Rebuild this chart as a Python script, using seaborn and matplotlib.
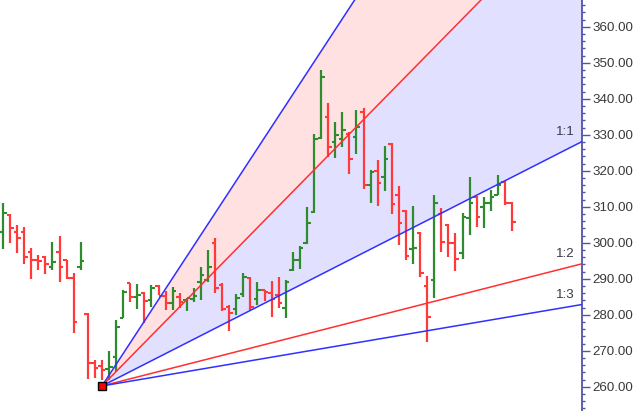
import numpy as np
import pandas as pd
import matplotlib
matplotlib.use('Agg')
import matplotlib.pyplot as plt
from matplotlib.ticker import MultipleLocator, FormatStrFormatter
import seaborn as sns

# OHLC prices, one entry per bar
opens = [303.0, 307.7, 303.0, 303.0, 297.4, 295.2, 296.0, 293.3, 297.4, 295.2,
         290.2, 293.3, 280.2, 266.6, 265.7, 264.9, 268.3, 279.1, 288.8, 285.0,
         286.0, 284.1, 288.0, 285.2, 283.3, 284.9, 284.1, 284.4, 289.1, 289.6,
         299.9, 288.3, 282.1, 281.6, 285.8, 290.2, 284.4, 287.0, 286.0, 285.4,
         281.9, 292.4, 295.2, 299.9, 308.5, 329.1, 334.9, 328.0, 328.8, 330.2,
         329.4, 336.3, 316.0, 319.9, 318.3, 327.4, 313.3, 308.8, 298.2, 302.7,
         288.0, 289.6, 308.0, 304.9, 299.9, 297.1, 306.9, 312.7, 309.9, 311.0,
         313.3, 316.9, 311.0]
highs = [311.0, 308.0, 304.9, 304.4, 298.5, 296.6, 296.3, 300.2, 301.9, 295.2,
         291.6, 300.2, 280.5, 267.4, 267.4, 269.9, 278.5, 286.9, 288.8, 288.5,
         286.3, 288.3, 288.3, 286.6, 287.7, 286.0, 284.6, 287.4, 293.3, 298.0,
         301.3, 288.8, 282.7, 285.8, 291.6, 290.5, 289.1, 286.9, 289.4, 290.5,
         289.6, 297.4, 299.1, 309.9, 330.2, 348.0, 338.8, 333.5, 336.3, 330.8,
         336.9, 337.4, 320.2, 323.0, 326.9, 327.7, 315.8, 309.1, 310.2, 303.0,
         290.8, 313.3, 309.6, 305.2, 302.7, 308.3, 318.3, 313.0, 312.7, 314.6,
         318.8, 317.1, 311.3]
lows = [298.3, 299.9, 297.2, 294.1, 289.9, 292.4, 291.3, 292.4, 289.1, 289.9,
        274.9, 292.4, 262.1, 262.4, 261.9, 261.9, 264.1, 279.1, 283.5, 281.6,
        277.7, 282.1, 285.6, 281.3, 281.3, 281.9, 281.0, 283.5, 284.1, 289.1,
        286.0, 281.0, 275.5, 279.9, 285.0, 281.3, 282.7, 283.8, 279.4, 281.9,
        279.1, 292.1, 292.7, 299.6, 308.3, 328.8, 323.8, 323.5, 326.6, 319.1,
        324.7, 314.9, 311.0, 310.2, 314.4, 308.0, 299.4, 295.2, 294.1, 290.5,
        272.4, 284.6, 297.4, 296.0, 292.1, 295.5, 302.1, 304.4, 304.1, 308.8,
        313.3, 310.5, 303.3]
closes = [308.3, 304.1, 301.3, 296.0, 295.2, 295.0, 294.1, 294.6, 293.3, 290.2,
          278.0, 294.9, 266.6, 265.2, 264.6, 265.5, 276.6, 286.3, 284.9, 285.6,
          283.8, 287.4, 285.2, 283.3, 286.6, 283.5, 284.6, 285.2, 291.0, 293.3,
          287.4, 281.6, 280.5, 284.6, 290.5, 282.1, 286.9, 286.3, 284.4, 283.3,
          289.1, 295.2, 298.5, 305.4, 328.8, 346.0, 326.6, 329.9, 331.3, 323.3,
          332.1, 316.0, 319.6, 316.6, 323.3, 310.8, 305.5, 296.3, 298.5, 291.6,
          279.4, 311.0, 300.2, 299.9, 295.5, 307.1, 311.0, 307.1, 311.0, 312.7,
          316.0, 311.0, 305.8]

# Gann fan: pivot bar/price and the angles (price per bar)
pivot_bar = 14
pivot_price = 260.2
fan_names = ['3:1', '2:1', '1:1', '1:2', '1:3']
fan_slopes = [3.0, 2.0, 1.0, 0.5, 1 / 3]
fan_colors = ['#3030ff', '#ff3030', '#3030ff', '#ff3030', '#3030ff']

x_min, x_max = -0.42, 81.9
y_min, y_max = 253.25, 367.42

sns.set_style("white")
plt.rcParams['font.family'] = ['Liberation Sans', 'DejaVu Sans']

fig = plt.figure(figsize=(6.35, 4.11), dpi=100)
ax = fig.add_axes([0, 0, 582 / 635, 1])

# fills between the fan lines
xs = np.linspace(pivot_bar, x_max, 50)
line = lambda s: pivot_price + s * (xs - pivot_bar)
ax.fill_between(xs, line(fan_slopes[1]), line(fan_slopes[0]), color='#ffe1e1', lw=0, zorder=0)
ax.fill_between(xs, line(fan_slopes[2]), line(fan_slopes[1]), color='#e1e1ff', lw=0, zorder=0)

# OHLC bars
idx = np.arange(len(opens))
o = np.array(opens); c = np.array(closes)
cols = np.where(c >= o, '#2e8b2e', '#ff3a3a')
ax.vlines(idx, lows, highs, colors=cols, lw=1.6, zorder=2)
ax.hlines(opens, idx - 0.5, idx, colors=cols, lw=1.5, zorder=2)
ax.hlines(closes, idx, idx + 0.5, colors=cols, lw=1.5, zorder=2)

# fan lines
fan_df = pd.DataFrame({
    'bar': np.tile([pivot_bar, x_max], len(fan_names)),
    'price': np.concatenate([[pivot_price, pivot_price + s * (x_max - pivot_bar)] for s in fan_slopes]),
    'ratio': np.repeat(fan_names, 2),
})
sns.lineplot(data=fan_df, x='bar', y='price', hue='ratio', hue_order=fan_names,
             palette=dict(zip(fan_names, fan_colors)), lw=1.1, legend=False,
             ax=ax, zorder=3, estimator=None, sort=False)

for name, s in zip(fan_names, fan_slopes):
    y_end = pivot_price + s * (x_max - pivot_bar)
    if y_end < y_max:
        ax.annotate(name, (x_max, y_end), xytext=(-7, 4), textcoords='offset pixels',
                    ha='right', va='bottom', fontsize=9.6, color='#3a3a48')

ax.plot(pivot_bar, pivot_price, 's', ms=5.5, mfc='#ff0000', mec='black', mew=1.0, zorder=5, clip_on=False)

ax.set_xlim(x_min, x_max)
ax.set_ylim(y_min, y_max)
ax.set_xlabel('')
ax.set_ylabel('')
ax.set_xticks([])
ax.yaxis.tick_right()
ax.yaxis.set_major_locator(MultipleLocator(10))
ax.yaxis.set_minor_locator(MultipleLocator(2))
ax.yaxis.set_major_formatter(FormatStrFormatter('%.2f'))
for side in ['left', 'top', 'bottom']:
    ax.spines[side].set_visible(False)
ax.spines['right'].set_color('#5252a6')
ax.spines['right'].set_linewidth(1.3)
ax.tick_params(axis='y', which='major', length=5.5, width=1, color='#5252a6',
               labelsize=9.6, labelcolor='#3a3a3a', pad=2)
ax.tick_params(axis='y', which='minor', length=2.5, width=1, color='#5252a6')

fig.savefig('out.png', dpi=100)
